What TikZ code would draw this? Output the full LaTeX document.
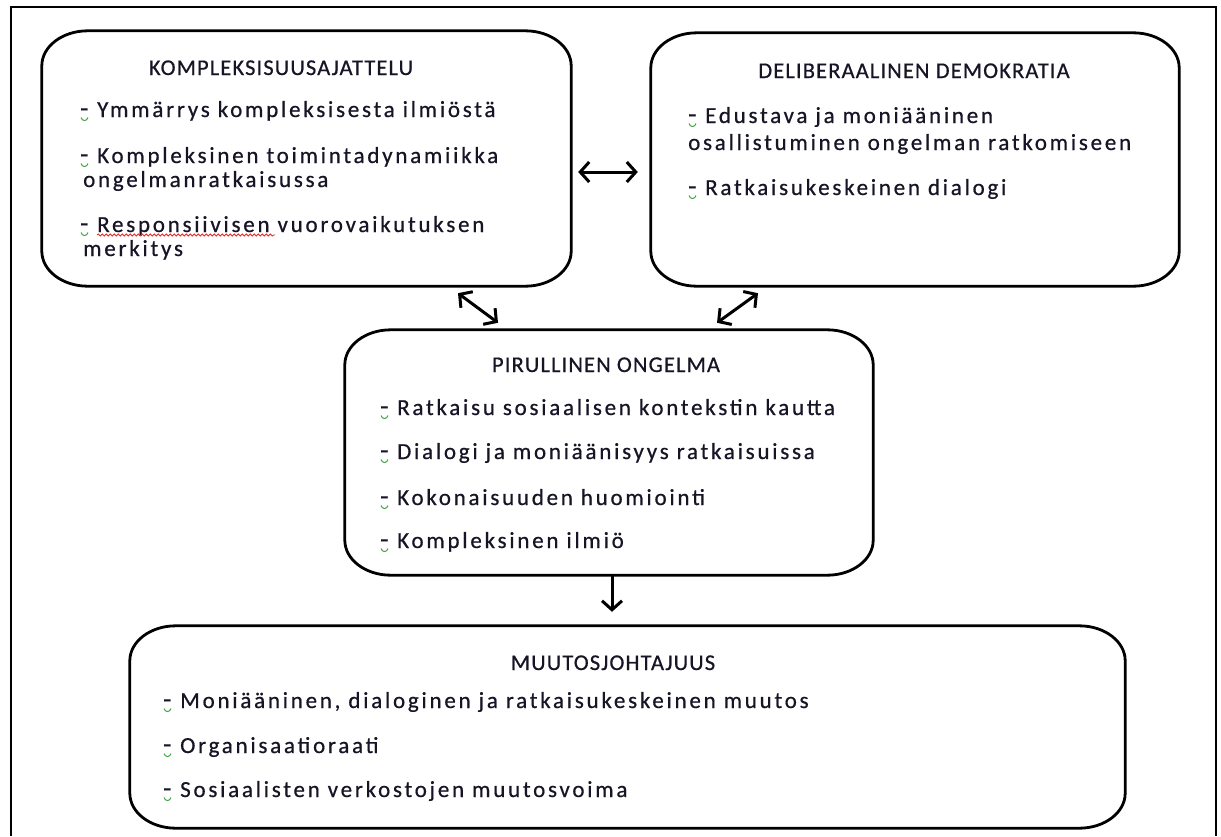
\documentclass[tikz,border=0pt]{standalone}
\usepackage{fontspec}
\usetikzlibrary{arrows.meta,fit,decorations.pathmorphing}
\newfontfamily\bodyfont{Carlito}[LetterSpace=12,FakeBold=0.6]
\newfontfamily\headfont{Carlito}[LetterSpace=5,FakeBold=0.6]
\definecolor{ink}{RGB}{24,20,38}
\definecolor{squiggreen}{RGB}{70,160,70}
\definecolor{squigred}{RGB}{225,40,40}
\newcommand\bxrx{46pt}
\newcommand\bxry{35pt}
% rounded frame with elliptical corners around a fitted node
\newcommand\roundframe[1]{%
  \draw[boxline] ([xshift=\bxrx]#1.north west) -- ([xshift=-\bxrx]#1.north east)
    arc[start angle=90,end angle=0,x radius=\bxrx,y radius=\bxry]
    -- ([yshift=\bxry]#1.south east)
    arc[start angle=0,end angle=-90,x radius=\bxrx,y radius=\bxry]
    -- ([xshift=\bxrx]#1.south west)
    arc[start angle=270,end angle=180,x radius=\bxrx,y radius=\bxry]
    -- ([yshift=-\bxry]#1.north west)
    arc[start angle=180,end angle=90,x radius=\bxrx,y radius=\bxry] -- cycle;}
\newcommand\bdash{\makebox[17pt][l]{\fontsize{27}{27}\selectfont -}}
\tikzset{
  boxline/.style={line width=2.8pt,black},
  frameline/.style={line width=2pt,black},
  area/.style={inner sep=0pt,draw=none},
  head/.style={anchor=base,inner sep=0pt,text=ink,font=\headfont\fontsize{22.5}{26}\selectfont},
  item/.style={anchor=base west,inner sep=0pt,text=ink,font=\bodyfont\fontsize{23}{27}\selectfont},
  link/.style={line width=3pt,{Straight Barb[length=9pt,width=20pt]}-{Straight Barb[length=9pt,width=20pt]}},
  flow/.style={line width=3pt,-{Straight Barb[length=9pt,width=20pt]}},
  squig/.style={squiggreen,line width=1pt},
  spell/.style={squigred,line width=0.8pt,decorate,decoration={snake,amplitude=1pt,segment length=4pt}}
}
\begin{document}
\begin{tikzpicture}[x=1pt,y=1pt]
\useasboundingbox (0,0) rectangle (1221,-836);
\fill[white] (0,0) rectangle (1221,-836);
% outer frame
\draw[frameline] (11,-836) -- (11,-7) -- (1216,-7) -- (1216,-836);

% box areas
\node[area,fit={(42,-31) (571,-286)}] (b1) {};
\node[area,fit={(651,-33) (1179,-286)}] (b2) {};
\node[area,fit={(345,-330) (873,-575)}] (b3) {};
\node[area,fit={(130,-626) (1125,-828)}] (b4) {};
\roundframe{b1}
\roundframe{b2}
\roundframe{b3}
\roundframe{b4}

% KOMPLEKSISUUSAJATTELU
\node[head] (h1) at (281,-75) {KOMPLEKSISUUSAJATTELU};
\node[item] (t1a) at (80,-117) {\bdash Ymmärrys kompleksisesta ilmiöstä};
\node[item] (t1b) at (80,-163) {\bdash Kompleksinen toimintadynamiikka};
\node[item] (t1c) at (83,-187) {ongelmanratkaisussa};
\node[item] (t1d) at (80,-232) {\bdash Responsiivisen vuorovaikutuksen};
\node[item] (t1e) at (83,-256) {merkitys};

% DELIBERAALINEN DEMOKRATIA
\node[head] (h2) at (914,-78) {DELIBERAALINEN DEMOKRATIA};
\node[item] (t2a) at (688,-123) {\bdash Edustava ja moniääninen};
\node[item] (t2b) at (688,-150) {osallistuminen ongelman ratkomiseen};
\node[item] (t2c) at (688,-195) {\bdash Ratkaisukeskeinen dialogi};

% PIRULLINEN ONGELMA
\node[head] (h3) at (606,-372) {PIRULLINEN ONGELMA};
\node[item] (t3a) at (380,-415) {\bdash Ratkaisu sosiaalisen kontekstin kautta};
\node[item] (t3b) at (380,-459) {\bdash Dialogi ja moniäänisyys ratkaisuissa};
\node[item] (t3c) at (380,-505) {\bdash Kokonaisuuden huomiointi};
\node[item] (t3d) at (380,-548) {\bdash Kompleksinen ilmiö};

% MUUTOSJOHTAJUUS
\node[head] (h4) at (613,-670) {MUUTOSJOHTAJUUS};
\node[item] (t4a) at (163,-708) {\bdash Moniääninen, dialoginen ja ratkaisukeskeinen muutos};
\node[item] (t4b) at (163,-753) {\bdash Organisaatioraati};
\node[item] (t4c) at (163,-797) {\bdash Sosiaalisten verkostojen muutosvoima};

% proofing marks under the dashes
\foreach \n in {t1a,t1b,t1d,t2a,t2c,t3a,t3b,t3c,t3d,t4a,t4b,t4c}
  \draw[squig] ([xshift=1pt,yshift=-0.5pt]\n.base west) .. controls +(1pt,-4pt) and +(-1pt,-4pt) .. ++(7pt,0pt);
\draw[spell] ([shift={(17pt,-3pt)}]t1d.base west) -- ++(178pt,0pt);

% connectors
\draw[link] ([shift={(7pt,-13.5pt)}]b1.east) -- ([shift={(-13pt,-12.5pt)}]b2.west);
\draw[link] ([shift={(151.5pt,-7pt)}]b1.south) -- ([shift={(-111pt,7pt)}]b3.north);
\draw[link] ([shift={(-157pt,-7pt)}]b2.south) -- ([shift={(108pt,7pt)}]b3.north);
\draw[flow] ([xshift=3pt]b3.south) -- ([shift={(-15.5pt,14pt)}]b4.north);
\end{tikzpicture}
\end{document}
